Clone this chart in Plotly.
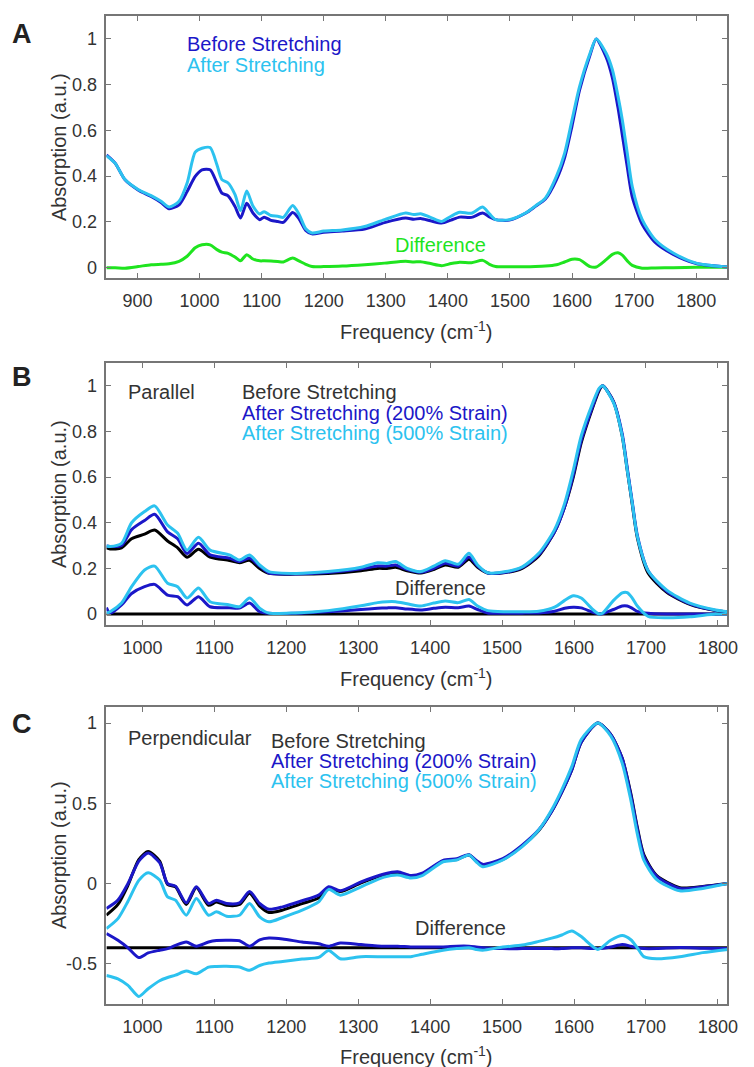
import plotly.graph_objects as go

# ---------------- Panel A data ----------------
A_freq = [850, 864, 880, 901, 922, 938, 951, 967, 980, 993, 1004, 1017, 1028, 1036, 1046, 1057,
          1066, 1076, 1086, 1097, 1104, 1115, 1126, 1135, 1150, 1160, 1171, 1181, 1200, 1230,
          1266, 1298, 1332, 1345, 1356, 1372, 1390, 1405, 1419, 1438, 1456, 1467, 1477, 1499,
          1525, 1541, 1557, 1575, 1588, 1600, 1612, 1629, 1639, 1655, 1665, 1674, 1681, 1689,
          1697, 1713, 1734, 1763, 1800, 1850]
A_before = [0.493, 0.457, 0.384, 0.340, 0.311, 0.285, 0.258, 0.275, 0.333, 0.399, 0.428, 0.428,
            0.370, 0.326, 0.314, 0.268, 0.217, 0.282, 0.239, 0.210, 0.221, 0.207, 0.202, 0.198,
            0.241, 0.215, 0.163, 0.148, 0.155, 0.160, 0.169, 0.197, 0.217, 0.212, 0.215, 0.205,
            0.195, 0.208, 0.221, 0.220, 0.239, 0.222, 0.210, 0.208, 0.238, 0.268, 0.300, 0.385,
            0.480, 0.620, 0.775, 0.930, 1.000, 0.920, 0.830, 0.700, 0.580, 0.440, 0.310, 0.190,
            0.110, 0.058, 0.018, 0.003]
A_after = [0.490, 0.457, 0.385, 0.342, 0.315, 0.290, 0.265, 0.290, 0.370, 0.505, 0.522, 0.525,
           0.450, 0.385, 0.370, 0.320, 0.250, 0.335, 0.270, 0.235, 0.245, 0.228, 0.225, 0.220,
           0.272, 0.235, 0.170, 0.152, 0.160, 0.165, 0.180, 0.210, 0.239, 0.232, 0.236, 0.220,
           0.202, 0.225, 0.242, 0.238, 0.265, 0.235, 0.210, 0.210, 0.239, 0.270, 0.304, 0.400,
           0.500, 0.646, 0.790, 0.937, 1.000, 0.937, 0.865, 0.750, 0.646, 0.500, 0.355, 0.210,
           0.122, 0.064, 0.020, 0.003]
A_diff = [0.000, 0.000, -0.002, 0.005, 0.013, 0.015, 0.017, 0.028, 0.050, 0.087, 0.100, 0.100,
          0.079, 0.068, 0.063, 0.047, 0.030, 0.057, 0.038, 0.030, 0.030, 0.029, 0.027, 0.025,
          0.042, 0.030, 0.015, 0.005, 0.005, 0.007, 0.013, 0.020, 0.028, 0.025, 0.026, 0.018,
          0.009, 0.018, 0.024, 0.022, 0.032, 0.015, 0.005, 0.004, 0.004, 0.005, 0.007, 0.013,
          0.025, 0.037, 0.035, 0.005, 0.003, 0.035, 0.058, 0.065, 0.055, 0.030, 0.010, -0.002,
          -0.001, 0.000, 0.002, 0.002]

# ---------------- Panel B data (Parallel) ----------------
B_freq = [950, 955, 971, 985, 1003, 1017, 1035, 1049, 1062, 1078, 1094, 1121, 1135, 1149, 1163,
          1176, 1213, 1258, 1304, 1327, 1340, 1352, 1368, 1387, 1405, 1421, 1439, 1454, 1466,
          1480, 1505, 1528, 1551, 1573, 1587, 1599, 1610, 1626, 1635, 1640, 1655, 1667, 1674,
          1681, 1688, 1703, 1729, 1761, 1797, 1814]
B_before = [0.290, 0.285, 0.290, 0.330, 0.350, 0.368, 0.320, 0.290, 0.249, 0.284, 0.250, 0.235,
            0.225, 0.235, 0.200, 0.178, 0.175, 0.178, 0.190, 0.200, 0.200, 0.205, 0.190, 0.180,
            0.195, 0.215, 0.205, 0.240, 0.205, 0.180, 0.182, 0.200, 0.255, 0.360, 0.470, 0.600,
            0.750, 0.905, 0.980, 1.000, 0.930, 0.780, 0.630, 0.480, 0.335, 0.180, 0.095, 0.042,
            0.015, 0.010]
B_200 = [0.298, 0.296, 0.300, 0.370, 0.410, 0.437, 0.360, 0.330, 0.265, 0.310, 0.260, 0.245,
         0.230, 0.245, 0.210, 0.180, 0.176, 0.182, 0.198, 0.210, 0.210, 0.215, 0.195, 0.183,
         0.200, 0.222, 0.210, 0.250, 0.210, 0.180, 0.183, 0.204, 0.260, 0.360, 0.470, 0.610,
         0.760, 0.910, 0.985, 1.000, 0.930, 0.790, 0.640, 0.490, 0.345, 0.190, 0.100, 0.045,
         0.016, 0.010]
B_500 = [0.298, 0.296, 0.310, 0.400, 0.449, 0.474, 0.390, 0.354, 0.280, 0.336, 0.280, 0.259,
         0.237, 0.259, 0.215, 0.186, 0.178, 0.186, 0.205, 0.225, 0.222, 0.230, 0.200, 0.186,
         0.210, 0.234, 0.218, 0.266, 0.215, 0.181, 0.186, 0.207, 0.266, 0.370, 0.485, 0.630,
         0.780, 0.925, 0.990, 1.000, 0.925, 0.780, 0.630, 0.485, 0.340, 0.190, 0.105, 0.048,
         0.018, 0.010]
B_diff_before = [0.0, 0.0]
B_diff_before_freq = [950, 1814]
B_diff_200 = [0.028, 0.003, 0.040, 0.090, 0.120, 0.130, 0.083, 0.076, 0.040, 0.076, 0.032, 0.028,
              0.026, 0.048, 0.010, 0.003, 0.003, 0.010, 0.020, 0.025, 0.027, 0.028, 0.022, 0.018,
              0.025, 0.030, 0.028, 0.035, 0.020, 0.005, 0.004, 0.004, 0.005, 0.012, 0.025, 0.030,
              0.027, 0.008, 0.000, 0.002, 0.020, 0.035, 0.035, 0.025, 0.012, 0.003, 0.000, 0.000,
              0.000, 0.000]
B_diff_500 = [0.004, 0.010, 0.048, 0.120, 0.193, 0.210, 0.135, 0.120, 0.070, 0.114, 0.054, 0.040,
              0.032, 0.070, 0.026, 0.004, 0.005, 0.015, 0.036, 0.050, 0.054, 0.054, 0.045, 0.035,
              0.048, 0.057, 0.050, 0.064, 0.035, 0.015, 0.010, 0.010, 0.012, 0.030, 0.060, 0.080,
              0.070, 0.020, 0.000, 0.005, 0.060, 0.093, 0.094, 0.070, 0.035, -0.010, -0.016,
              -0.012, 0.000, 0.000]

# ---------------- Panel C data (Perpendicular) ----------------
C_freq = [950, 966, 980, 995, 1008, 1024, 1035, 1046, 1061, 1075, 1092, 1103, 1117, 1135, 1149,
          1163, 1176, 1195, 1222, 1245, 1259, 1275, 1304, 1336, 1355, 1373, 1389, 1418, 1437,
          1454, 1464, 1473, 1501, 1528, 1551, 1569, 1583, 1597, 1610, 1633, 1651, 1667, 1679,
          1688, 1697, 1715, 1747, 1779, 1814]
C_before = [-0.197, -0.130, -0.010, 0.150, 0.200, 0.140, -0.005, -0.020, -0.130, -0.025, -0.135,
            -0.115, -0.135, -0.130, -0.060, -0.140, -0.180, -0.165, -0.125, -0.090, -0.030,
            -0.050, 0.005, 0.055, 0.068, 0.045, 0.060, 0.140, 0.150, 0.178, 0.140, 0.115, 0.150,
            0.235, 0.330, 0.450, 0.570, 0.710, 0.880, 1.000, 0.930, 0.780, 0.560, 0.350, 0.180,
            0.050, -0.025, -0.018, 0.000]
C_200 = [-0.155, -0.103, 0.000, 0.140, 0.190, 0.130, 0.000, -0.016, -0.120, -0.020, -0.124,
         -0.103, -0.124, -0.120, -0.050, -0.124, -0.160, -0.145, -0.107, -0.072, -0.020, -0.045,
         0.011, 0.060, 0.074, 0.050, 0.065, 0.145, 0.155, 0.180, 0.145, 0.120, 0.155, 0.240,
         0.335, 0.450, 0.570, 0.710, 0.880, 1.000, 0.930, 0.780, 0.550, 0.340, 0.170, 0.045,
         -0.030, -0.020, 0.000]
C_500 = [-0.280, -0.218, -0.110, 0.020, 0.068, 0.022, -0.083, -0.103, -0.197, -0.093, -0.197,
         -0.176, -0.203, -0.197, -0.124, -0.207, -0.238, -0.211, -0.166, -0.114, -0.036, -0.072,
         -0.020, 0.040, 0.053, 0.035, 0.050, 0.136, 0.147, 0.178, 0.136, 0.105, 0.147, 0.230,
         0.334, 0.460, 0.584, 0.730, 0.897, 1.000, 0.920, 0.750, 0.520, 0.310, 0.147, 0.025,
         -0.045, -0.030, 0.000]
C_diff_before = [-0.4, -0.4]
C_diff_before_freq = [950, 1814]
C_diff_200 = [-0.311, -0.353, -0.400, -0.461, -0.432, -0.415, -0.405, -0.385, -0.364, -0.390,
              -0.364, -0.355, -0.353, -0.356, -0.390, -0.350, -0.339, -0.345, -0.364, -0.375,
              -0.390, -0.370, -0.380, -0.390, -0.390, -0.395, -0.395, -0.395, -0.390, -0.390,
              -0.395, -0.400, -0.405, -0.405, -0.405, -0.405, -0.405, -0.400, -0.400, -0.405,
              -0.395, -0.380, -0.390, -0.400, -0.405, -0.405, -0.398, -0.402, -0.405]
C_diff_500 = [-0.572, -0.593, -0.634, -0.703, -0.655, -0.605, -0.585, -0.570, -0.545, -0.562,
              -0.520, -0.516, -0.515, -0.520, -0.540, -0.510, -0.495, -0.485, -0.470, -0.460,
              -0.416, -0.468, -0.455, -0.456, -0.456, -0.455, -0.440, -0.415, -0.405, -0.400,
              -0.410, -0.415, -0.395, -0.383, -0.360, -0.340, -0.320, -0.295, -0.330, -0.410,
              -0.353, -0.324, -0.350, -0.400, -0.455, -0.468, -0.455, -0.430, -0.410]

# ---------------- Ticks ----------------
A_xticks = [900, 1000, 1100, 1200, 1300, 1400, 1500, 1600, 1700, 1800]
BC_xticks = [1000, 1100, 1200, 1300, 1400, 1500, 1600, 1700, 1800]
AB_yticks = [0, 0.2, 0.4, 0.6, 0.8, 1]
AB_yticklabels = ["0", "0.2", "0.4", "0.6", "0.8", "1"]
C_yticks = [-0.5, 0, 0.5, 1]
C_yticklabels = ["-0.5", "0", "0.5", "1"]

# ---------------- Style ----------------
DARK = "#1b17c8"
LIGHT = "#2cc2ef"
GREEN = "#1fe41f"
BLACK = "#000000"
TXT = "#333333"
AXC = "#767676"
FONT = "Liberation Sans, Arial, sans-serif"
W, H = 754, 1067
LW = 3

fig = go.Figure()


def add(x, y, color, xa, ya):
    fig.add_trace(go.Scatter(x=x, y=y, mode="lines", xaxis=xa, yaxis=ya,
                             line=dict(color=color, width=LW, shape="spline", smoothing=0.7),
                             showlegend=False, hoverinfo="skip"))


# Panel A
add(A_freq, A_diff, GREEN, "x", "y")
add(A_freq, A_before, DARK, "x", "y")
add(A_freq, A_after, LIGHT, "x", "y")
# Panel B
add(B_diff_before_freq, B_diff_before, BLACK, "x2", "y2")
add(B_freq, B_diff_200, DARK, "x2", "y2")
add(B_freq, B_diff_500, LIGHT, "x2", "y2")
add(B_freq, B_before, BLACK, "x2", "y2")
add(B_freq, B_200, DARK, "x2", "y2")
add(B_freq, B_500, LIGHT, "x2", "y2")
# Panel C
add(C_diff_before_freq, C_diff_before, BLACK, "x3", "y3")
add(C_freq, C_diff_200, DARK, "x3", "y3")
add(C_freq, C_diff_500, LIGHT, "x3", "y3")
add(C_freq, C_before, BLACK, "x3", "y3")
add(C_freq, C_200, DARK, "x3", "y3")
add(C_freq, C_500, LIGHT, "x3", "y3")

xdom = [108 / W, 738 / W]


def ydom(top, bottom):
    return [1 - bottom / H, 1 - top / H]


common_axis = dict(showline=True, linecolor=AXC, linewidth=1.5, mirror="ticks", ticks="inside",
                   ticklen=5, tickwidth=1.2, tickcolor=AXC, showgrid=False, zeroline=False,
                   tickfont=dict(family=FONT, size=18, color=TXT))

fig.update_layout(
    width=W, height=H, margin=dict(l=0, r=0, t=0, b=0),
    paper_bgcolor="white", plot_bgcolor="white",
    xaxis=dict(domain=xdom, anchor="y", range=[850, 1850], tickvals=A_xticks,
               ticklabelstandoff=6, **common_axis),
    yaxis=dict(domain=ydom(16, 278), anchor="x", range=[-0.045, 1.1], tickvals=AB_yticks,
               ticktext=AB_yticklabels, ticklabelstandoff=4, **common_axis),
    xaxis2=dict(domain=xdom, anchor="y2", range=[950, 1813], tickvals=BC_xticks,
                ticklabelstandoff=6, **common_axis),
    yaxis2=dict(domain=ydom(363, 625), anchor="x2", range=[-0.048, 1.1], tickvals=AB_yticks,
                ticktext=AB_yticklabels, ticklabelstandoff=4, **common_axis),
    xaxis3=dict(domain=xdom, anchor="y3", range=[950, 1813], tickvals=BC_xticks,
                ticklabelstandoff=6, **common_axis),
    yaxis3=dict(domain=ydom(707, 1004), anchor="x3", range=[-0.75, 1.1], tickvals=C_yticks,
                ticktext=C_yticklabels, ticklabelstandoff=4, **common_axis),
)

annots = []


def txt(s, px, py, color=TXT, size=20, xanchor="left", bold=False, angle=0):
    annots.append(dict(text=("<b>%s</b>" % s) if bold else s, x=px / W, y=1 - py / H,
                       xref="paper", yref="paper", xanchor=xanchor, yanchor="middle",
                       showarrow=False, textangle=angle,
                       font=dict(family=FONT, size=size, color=color)))


# Panel letters
txt("A", 10, 34, color="#222222", size=27, bold=True)
txt("B", 10, 377, color="#222222", size=27, bold=True)
txt("C", 10, 724, color="#222222", size=27, bold=True)

# Panel A texts
txt("Before Stretching", 188, 44, color=DARK)
txt("After Stretching", 188, 65, color=LIGHT)
txt("Difference", 447, 245, color=GREEN, xanchor="center")

# Panel B texts
txt("Parallel", 128, 392)
txt("Before Stretching", 244, 392)
txt("After Stretching (200% Strain)", 244, 413, color=DARK)
txt("After Stretching (500% Strain)", 244, 433, color=LIGHT)
txt("Difference", 447, 588, xanchor="center")

# Panel C texts
txt("Perpendicular", 128, 738)
txt("Before Stretching", 273, 741)
txt("After Stretching (200% Strain)", 273, 761, color=DARK)
txt("After Stretching (500% Strain)", 273, 781, color=LIGHT)
txt("Difference", 467, 928, xanchor="center")

# Axis titles
for yt in (330, 677, 1055):
    txt("Frequency (cm<sup>-1</sup>)", 423, yt, xanchor="center")
for yc in (147, 494, 855):
    txt("Absorption (a.u.)", 60, yc, xanchor="center", angle=-90)

fig.update_layout(annotations=annots)

fig.write_html("out.html")
